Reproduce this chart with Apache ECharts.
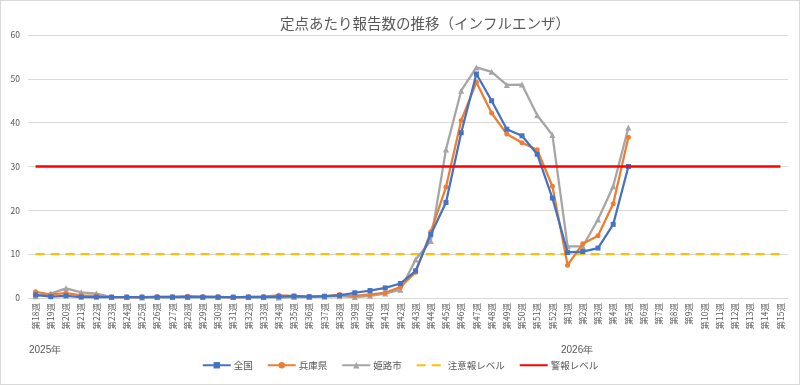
<!DOCTYPE html>
<html>
<head>
<meta charset="utf-8">
<script src="https://cdn.jsdelivr.net/npm/echarts@6/dist/echarts.min.js"></script>
<style>
html,body{margin:0;padding:0;background:#fff;}
#c{width:798px;height:383px;border:1px solid #D9D9D9;}
</style>
</head>
<body>
<div id="c"></div>
<script>
const categories = [
  '第18週','第19週','第20週','第21週','第22週','第23週','第24週','第25週','第26週','第27週',
  '第28週','第29週','第30週','第31週','第32週','第33週','第34週','第35週','第36週','第37週',
  '第38週','第39週','第40週','第41週','第42週','第43週','第44週','第45週','第46週','第47週',
  '第48週','第49週','第50週','第51週','第52週',
  '第1週','第2週','第3週','第4週','第5週','第6週','第7週','第8週','第9週','第10週',
  '第11週','第12週','第13週','第14週','第15週'
];
const yearLabels = ['2025年', '2026年'];
const yearStartIndex = [0, 35];

const zenkoku = [
  0.7,0.3,0.5,0.2,0.2,0.2,0.2,0.2,0.2,0.2,
  0.2,0.2,0.2,0.2,0.2,0.2,0.3,0.4,0.3,0.4,
  0.6,1.2,1.7,2.3,3.3,6.2,14.5,21.8,37.7,51.1,
  45.0,38.5,37.0,32.8,22.8,
  10.4,10.6,11.4,16.8,30.0,null,null,null,null,null,
  null,null,null,null,null
];
const hyogo = [
  1.4,0.8,1.1,0.6,0.5,0.2,0.2,0.2,0.3,0.3,
  0.4,0.3,0.3,0.1,0.3,0.3,0.6,0.5,0.3,0.4,
  0.8,0.5,0.8,1.2,2.5,5.9,15.1,25.3,40.5,49.2,
  42.2,37.4,35.4,33.8,25.5,
  7.5,12.4,14.2,21.5,36.7,null,null,null,null,null,
  null,null,null,null,null
];
const himeji = [
  0.4,1.0,2.2,1.3,1.0,0.2,0.2,0.1,0.2,0.2,
  0.3,0.3,0.2,0.2,0.2,0.2,0.1,0.2,0.2,0.3,
  0.4,0.2,0.5,1.0,1.9,8.8,13.0,33.9,47.3,52.6,
  51.6,48.6,48.7,41.7,37.2,
  11.8,11.8,17.9,25.5,38.9,null,null,null,null,null,
  null,null,null,null,null
];
const chuiLevel = 10;
const keihoLevel = 30;
const yTicks = [0, 10, 20, 30, 40, 50, 60];

const chuiData = categories.map(() => chuiLevel);
const keihoData = categories.map(() => keihoLevel);

const font = '"Noto Sans CJK JP", "Noto Sans", sans-serif';
const txt = '#595959';

const chart = echarts.init(document.getElementById('c'), null, {renderer: 'canvas'});
chart.setOption({
  animation: false,
  textStyle: {fontFamily: font},
  title: {
    text: '定点あたり報告数の推移（インフルエンザ）',
    left: 274, top: 10,
    textStyle: {fontSize: 14.5, fontWeight: 'normal', color: txt, fontFamily: font}
  },
  grid: {left: 27, right: 11, top: 34, bottom: 86, containLabel: false},
  legend: {
    bottom: 9, left: 'center',
    itemWidth: 28, itemHeight: 8, itemGap: 14,
    textStyle: {fontSize: 9.5, color: txt, fontFamily: font, padding: [0, 0, 0, -2]},
    data: [
      '全国', '兵庫県', '姫路市',
      {name: '注意報レベル', itemStyle: {opacity: 0, borderWidth: 0}},
      {name: '警報レベル', itemStyle: {opacity: 0, borderWidth: 0}}
    ]
  },
  xAxis: [{
    type: 'category',
    data: categories,
    boundaryGap: true,
    axisLine: {lineStyle: {color: '#D9D9D9'}},
    axisTick: {show: false},
    axisLabel: {interval: 0, rotate: 90, fontSize: 8.5, color: txt, margin: 5, fontFamily: font}
  }],
  yAxis: {
    type: 'value', min: yTicks[0], max: yTicks[yTicks.length - 1], interval: 10,
    axisLine: {show: false}, axisTick: {show: false},
    axisLabel: {fontSize: 8.5, color: txt, margin: 8},
    splitLine: {lineStyle: {color: '#D9D9D9', width: 1}}
  },
  graphic: yearLabels.map((t, k) => ({
    type: 'text',
    left: k === 0 ? 28 : 560,
    top: 344,
    style: {text: t, fontSize: 10, fill: txt, font: '10px ' + font}
  })),
  series: [
    {name: '全国', type: 'line', data: zenkoku, symbol: 'rect', symbolSize: 5,
     lineStyle: {width: 2.25, color: '#4472C4'}, itemStyle: {color: '#4472C4'}, z: 5},
    {name: '兵庫県', type: 'line', data: hyogo, symbol: 'circle', symbolSize: 5,
     lineStyle: {width: 2.25, color: '#ED7D31'}, itemStyle: {color: '#ED7D31'}, z: 4},
    {name: '姫路市', type: 'line', data: himeji, symbol: 'triangle', symbolSize: 6,
     lineStyle: {width: 2.25, color: '#A5A5A5'}, itemStyle: {color: '#A5A5A5'}, z: 3},
    {name: '注意報レベル', type: 'line', data: chuiData, symbol: 'none',
     lineStyle: {width: 2.25, color: '#FFC000', type: [9, 6]}, itemStyle: {color: '#FFC000'}, z: 2},
    {name: '警報レベル', type: 'line', data: keihoData, symbol: 'none',
     lineStyle: {width: 2.5, color: '#FF0000'}, itemStyle: {color: '#FF0000'}, z: 6}
  ]
});
</script>
</body>
</html>
